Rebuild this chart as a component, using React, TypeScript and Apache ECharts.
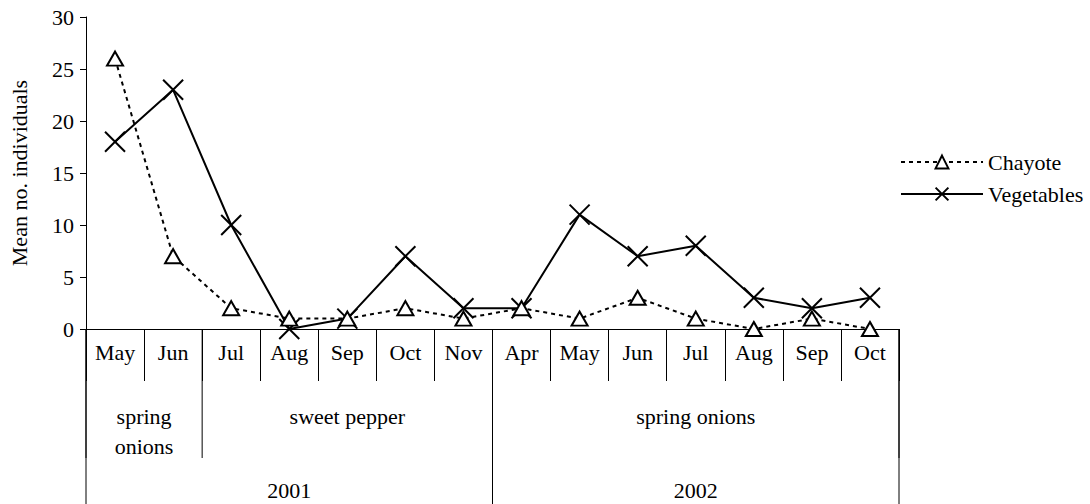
import { useEffect, useRef } from "react";
import * as echarts from "echarts";

const months = ["May", "Jun", "Jul", "Aug", "Sep", "Oct", "Nov", "Apr", "May", "Jun", "Jul", "Aug", "Sep", "Oct"];
const chayote = [26, 7, 2, 1, 1, 2, 1, 2, 1, 3, 1, 0, 1, 0];
const vegetables = [18, 23, 10, 0, 1, 7, 2, 2, 11, 7, 8, 3, 2, 3];
const cropLabels = ["spring\nonions", "sweet pepper", "spring onions"];
const cropSpans = [2, 5, 7];
const yearLabels = ["2001", "2002"];
const yearSpans = [7, 7];
const yMin = 0;
const yMax = 30;
const yStep = 5;

const FONT = "'Liberation Serif', 'Times New Roman', serif";
const FS = 22;

export default function App() {
  const ref = useRef<HTMLDivElement>(null);
  useEffect(() => {
    document.body.style.margin = "0";
    const chart = echarts.init(ref.current!, null, { renderer: "svg" });
    const option: any = {
      animation: false,
      textStyle: { fontFamily: FONT, color: "#000" },
      grid: { left: 86, right: 191, top: 17, bottom: 175, containLabel: false },
      legend: {
        orient: "vertical",
        left: 895,
        top: 146,
        itemWidth: 82,
        itemHeight: 16,
        itemGap: 10,
        textStyle: { fontFamily: FONT, fontSize: FS, color: "#000" },
        data: ["Chayote", "Vegetables"],
      },
      xAxis: {
        type: "category",
        data: months,
        boundaryGap: true,
        axisLine: { show: true, lineStyle: { color: "#000", width: 1 } },
        axisTick: { show: true, interval: 0, length: 52, lineStyle: { color: "#000", width: 1 } },
        axisLabel: { interval: 0, margin: 12, fontFamily: FONT, fontSize: FS, color: "#000" },
      },
      yAxis: {
        type: "value",
        min: yMin,
        max: yMax,
        interval: yStep,
        name: "Mean no. individuals",
        nameLocation: "middle",
        nameGap: 56,
        nameTextStyle: { fontFamily: FONT, fontSize: FS, color: "#000" },
        splitLine: { show: false },
        axisLine: { show: true, lineStyle: { color: "#000", width: 1 } },
        axisTick: { show: true, length: 6, lineStyle: { color: "#000", width: 1 } },
        axisLabel: { margin: 12, fontFamily: FONT, fontSize: FS, color: "#000" },
      },
      series: [
        {
          name: "Chayote",
          type: "line",
          data: chayote,
          symbol: "triangle",
          symbolSize: [16, 14],
          itemStyle: { color: "#fff", borderColor: "#000", borderWidth: 2 },
          lineStyle: { color: "#000", width: 2, type: [4, 4] },
          emphasis: { disabled: true },
          z: 3,
        },
        {
          name: "Vegetables",
          type: "line",
          data: vegetables,
          symbol: "path://M0,0L20,20M20,0L0,20",
          symbolSize: 20,
          itemStyle: { color: "none", borderColor: "#000", borderWidth: 2 },
          lineStyle: { color: "#000", width: 2, type: "solid" },
          emphasis: { disabled: true },
          z: 2,
        },
      ],
    };
    chart.setOption(option);

    const c0 = chart.convertToPixel({ xAxisIndex: 0 }, 0) as number;
    const c1 = chart.convertToPixel({ xAxisIndex: 0 }, 1) as number;
    const bw = c1 - c0;
    const edge = (i: number) => c0 - bw / 2 + i * bw;
    const y0 = chart.convertToPixel({ yAxisIndex: 0 }, 0) as number;
    const H = chart.getHeight();

    const els: any[] = [];
    const lineStyle = { stroke: "#000", lineWidth: 1 };
    let idx = 0;
    const cropEdges = [0];
    cropLabels.forEach((lab, k) => {
      const s = idx;
      const e = idx + cropSpans[k];
      els.push({
        type: "text",
        x: (edge(s) + edge(e)) / 2,
        y: y0 + 72,
        style: {
          text: lab,
          fontFamily: FONT,
          fontSize: FS,
          lineHeight: 30,
          fill: "#000",
          align: "center",
          verticalAlign: "top",
        },
      });
      cropEdges.push(e);
      idx = e;
    });
    cropEdges.forEach((e) => {
      els.push({ type: "line", shape: { x1: edge(e), y1: y0, x2: edge(e), y2: y0 + 129 }, style: lineStyle });
    });
    idx = 0;
    const yearEdges = [0];
    yearLabels.forEach((lab, k) => {
      const s = idx;
      const e = idx + yearSpans[k];
      els.push({
        type: "text",
        x: (edge(s) + edge(e)) / 2,
        y: y0 + 161,
        style: {
          text: lab,
          fontFamily: FONT,
          fontSize: FS,
          fill: "#000",
          align: "center",
          verticalAlign: "middle",
        },
      });
      yearEdges.push(e);
      idx = e;
    });
    yearEdges.forEach((e) => {
      els.push({ type: "line", shape: { x1: edge(e), y1: y0, x2: edge(e), y2: H }, style: lineStyle });
    });
    chart.setOption({ graphic: els });

    return () => chart.dispose();
  }, []);
  return <div ref={ref} style={{ width: 1090, height: 504 }} />;
}
